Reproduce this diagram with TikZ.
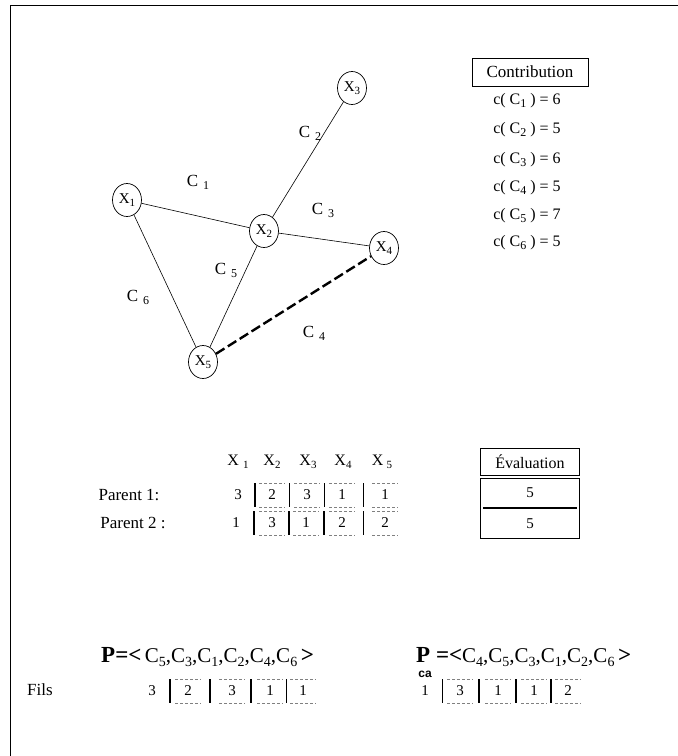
\documentclass[tikz,border=0pt]{standalone}
\usepackage{fontspec}
\setmainfont{Liberation Serif}
\newfontfamily\arialfont{Liberation Sans}
\usetikzlibrary{shapes.geometric,calc}
\newcommand\lsub[2]{\raisebox{-0.4ex}{\fontsize{#1}{#1}\selectfont #2}}
\begin{document}
\begin{tikzpicture}[x=1pt,y=-1pt,
  vnode/.style={ellipse,draw,line width=0.7pt,minimum width=29pt,minimum height=33pt,inner sep=0pt,font=\fontsize{15}{15}\selectfont},
  edge/.style={line width=0.6pt},
  boldedge/.style={line width=2.4pt,dash pattern=on 10pt off 4pt},
  elabel/.style={font=\fontsize{17}{17}\selectfont,inner sep=0pt},
  ctext/.style={font=\fontsize{16}{16}\selectfont,inner sep=0pt},
  framebox/.style={draw,line width=0.9pt,inner sep=0pt},
  val/.style={font=\fontsize{15}{15}\selectfont,inner sep=0pt},
  sepbar/.style={line width=1.2pt},
  cellrule/.style={line width=0.5pt,densely dashed,gray},
  plabel/.style={font=\fontsize{21}{21}\selectfont,inner sep=0pt,anchor=west}
]
\useasboundingbox (0,0) rectangle (678,756);
% frame
\draw[line width=0.7pt] (10,756) -- (10,5) -- (678,5);

% graph
\node[vnode] (x1) at (127,200) {X\lsub{11}{1}};
\node[vnode] (x2) at (264,231) {X\lsub{11}{2}};
\node[vnode] (x3) at (352,88) {X\lsub{11}{3}};
\node[vnode] (x4) at (384,248) {X\lsub{11}{4}};
\node[vnode] (x5) at (203,362) {X\lsub{11}{5}};
\draw[edge] (x1) -- (x2);
\draw[edge] (x2) -- (x3);
\draw[edge] (x2) -- (x4);
\draw[edge] (x2) -- (x5);
\draw[edge] (x1) -- (x5);
\draw[boldedge] (x5) -- (x4);
\node[elabel] (c1) at (198,182) {C\hspace{5pt}\lsub{12}{1}};
\node[elabel] (c2) at (310,133) {C\hspace{5pt}\lsub{12}{2}};
\node[elabel] (c3) at (323,210) {C\hspace{5pt}\lsub{12}{3}};
\node[elabel] (c4) at (314,333) {C\hspace{5pt}\lsub{12}{4}};
\node[elabel] (c5) at (226,270) {C\hspace{5pt}\lsub{12}{5}};
\node[elabel] (c6) at (138,297) {C\hspace{5pt}\lsub{12}{6}};

% contribution table
\node[framebox,font=\fontsize{17}{17}\selectfont,minimum width=116pt,minimum height=28pt] (contrib) at (530,72) {Contribution};
\node[ctext] (k1) at (527,101) {c( C\lsub{12}{1} ) = 6};
\node[ctext] (k2) at (527,130) {c( C\lsub{12}{2} ) = 5};
\node[ctext] (k3) at (527,160) {c( C\lsub{12}{3} ) = 6};
\node[ctext] (k4) at (527,188) {c( C\lsub{12}{4} ) = 5};
\node[ctext] (k5) at (527,216) {c( C\lsub{12}{5} ) = 7};
\node[ctext] (k6) at (527,243) {c( C\lsub{12}{6} ) = 5};

% header of parents table
\node[ctext] (h1) at (238,462) {X\hspace{4pt}\lsub{11}{1}};
\node[ctext] (h2) at (272,462) {X\lsub{11}{2}};
\node[ctext] (h3) at (308,462) {X\lsub{11}{3}};
\node[ctext] (h4) at (343,462) {X\lsub{11}{4}};
\node[ctext] (h5) at (382,462) {X\hspace{3pt}\lsub{11}{5}};

% evaluation
\node[framebox,ctext,minimum width=99pt,minimum height=27pt] (evalh) at (530,462) {Évaluation};
\node[framebox,minimum width=99pt,minimum height=60pt] (evalb) at (530,508) {};
\draw[line width=1.2pt] ($(evalb.west)+(3,0)$) -- ($(evalb.east)+(-3,0)$);
\node[val] (e1) at (530,493) {5};
\node[val] (e2) at (530,524) {5};

% parent rows
\node[font=\fontsize{17}{17}\selectfont,inner sep=0pt] (pl1) at (129,495) {Parent 1:};
\node[font=\fontsize{17}{17}\selectfont,inner sep=0pt] (pl2) at (133,523) {Parent 2 :};
\foreach \x/\v [count=\i] in {238/3,272/2,307/3,342/1,385/1}
  \node[val] (pa\i) at (\x,495) {\v};
\foreach \x/\v [count=\i] in {236/1,272/3,306/1,342/2,385/2}
  \node[val] (pb\i) at (\x,523) {\v};
\foreach \r in {pa,pb}{
  \foreach \i/\j in {1/2,2/3,3/4,4/5}
    \draw[sepbar] ($(\r\i)!0.5!(\r\j)$) +(0,-12) -- +(0,12);
  \foreach \i in {2,3,4,5}{
    \draw[cellrule] ($(\r\i)+(-13,-12)$) -- ++(26,0);
    \draw[cellrule] ($(\r\i)+(-13,12)$) -- ++(26,0);
  }
}

% permutations
\node[plabel] (perm) at (101,657) {{\bfseries\fontsize{23}{23}\selectfont P=<}\,C\lsub{14}{5},C\lsub{14}{3},C\lsub{14}{1},C\lsub{14}{2},C\lsub{14}{4},C\lsub{14}{6}\,{\bfseries\fontsize{23}{23}\selectfont >}};
\node[plabel] (permca) at (416,657) {{\bfseries\fontsize{23}{23}\selectfont P =<}C\lsub{14}{4},C\lsub{14}{5},C\lsub{14}{3},C\lsub{14}{1},C\lsub{14}{2},C\lsub{14}{6}\,{\bfseries\fontsize{23}{23}\selectfont >}};
\node[inner sep=0pt,font=\arialfont\bfseries\fontsize{12}{12}\selectfont] (ca) at (425,674) {ca};

% offspring rows
\node[font=\fontsize{17}{17}\selectfont,inner sep=0pt,anchor=west] (fils) at (27,690) {Fils};
\foreach \x/\v [count=\i] in {152/3,188/2,232/3,270/1,303/1}
  \node[val] (fa\i) at (\x,691) {\v};
\foreach \x/\v [count=\i] in {425/1,460/3,498/1,534/1,568/2}
  \node[val] (fb\i) at (\x,691) {\v};
\foreach \r in {fa,fb}{
  \foreach \i/\j in {1/2,2/3,3/4,4/5}
    \draw[sepbar] ($(\r\i)!0.5!(\r\j)$) +(0,-12) -- +(0,12);
  \foreach \i in {2,3,4,5}{
    \draw[cellrule] ($(\r\i)+(-13,-12)$) -- ++(26,0);
    \draw[cellrule] ($(\r\i)+(-13,12)$) -- ++(26,0);
  }
}
\end{tikzpicture}
\end{document}
